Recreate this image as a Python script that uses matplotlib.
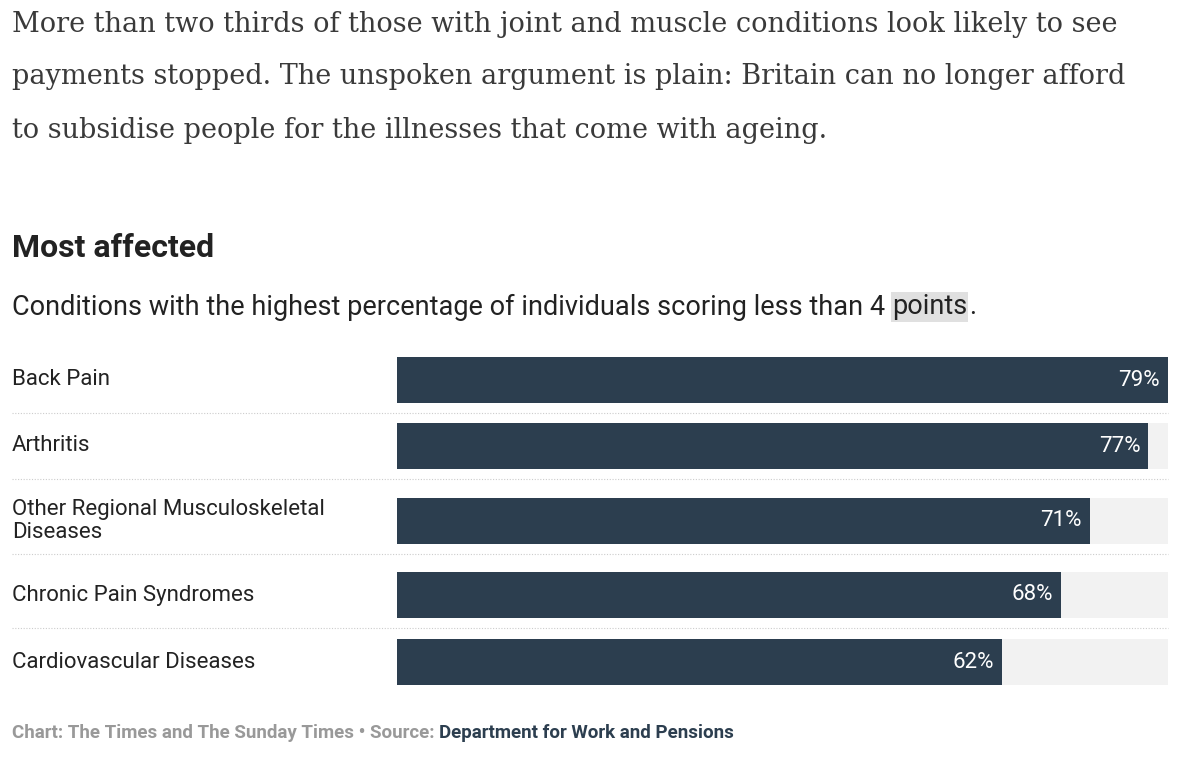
import matplotlib.pyplot as plt
from matplotlib.lines import Line2D

categories = ["Back Pain", "Arthritis", "Other Regional Musculoskeletal\nDiseases",
              "Chronic Pain Syndromes", "Cardiovascular Diseases"]
values = [79, 77, 71, 68, 62]
vmax = 79

W, H = 1200, 775
fig = plt.figure(figsize=(12, 7.75), dpi=100)
fig.patch.set_facecolor("white")


def fx(x):
    return x / W


def fy(y):
    return 1 - y / H


para = ["More than two thirds of those with joint and muscle conditions look likely to see",
        "payments stopped. The unspoken argument is plain: Britain can no longer afford",
        "to subsidise people for the illnesses that come with ageing."]
for i, line in enumerate(para):
    fig.text(fx(12), fy(24 + 53 * i), line, fontsize=19.5, family="DejaVu Serif",
             color="#3a3a3a", va="center", ha="left")

fig.text(fx(12), fy(248), "Most affected", fontsize=23, family="Roboto",
         weight="bold", color="#222222", va="center")
sub = fig.text(fx(12), fy(307), "Conditions with the highest percentage of individuals scoring less than 4 ",
               fontsize=19.5, family="Roboto", color="#222222", va="center")
fig.canvas.draw()
bb = sub.get_window_extent()
pts = fig.text(bb.x1 / W, fy(307), "points", fontsize=19.5, family="Roboto", color="#222222",
               va="center", bbox=dict(facecolor="#e0e0e0", edgecolor="none", pad=1))
fig.canvas.draw()
bb2 = pts.get_window_extent()
fig.text(bb2.x1 / W + 0.002, fy(307), ".", fontsize=19.5, family="Roboto", color="#222222", va="center")

# bars
centers = [380, 446, 521, 595, 662]
bh = 46
top, bot = 355, 688
ax = fig.add_axes([fx(397), fy(bot), fx(1168) - fx(397), (bot - top) / H])
ax.set_xlim(0, vmax)
ax.set_ylim(bot, top)
ax.axis("off")
ax.barh(centers, [vmax] * len(values), height=bh, color="#f2f2f2")
ax.barh(centers, values, height=bh, color="#2c3e4f")
for c, v in zip(centers, values):
    ax.text(v - 0.8, c, f"{v}%", color="white", ha="right", va="center",
            fontsize=16, family="Roboto")

for c, name in zip(centers, categories):
    fig.text(fx(12), fy(c), name, fontsize=16, family="Roboto", color="#222222",
             va="center", ha="left", linespacing=1.1)

for c in centers[:-1]:
    y = fy(c + bh / 2 + 10)
    fig.add_artist(Line2D([fx(12), fx(1168)], [y, y], color="#cccccc",
                          linestyle=(0, (1, 1.5)), linewidth=0.8))

ft = fig.text(fx(12), fy(733), "Chart: The Times and The Sunday Times \u2022 Source: ",
              fontsize=13.5, family="Roboto", color="#999999", weight="bold", va="center")
fig.canvas.draw()
b3 = ft.get_window_extent()
fig.text(b3.x1 / W, fy(733), "Department for Work and Pensions", fontsize=13.5,
         family="Roboto", color="#2c3e4f", weight="bold", va="center")

fig.savefig("out.png", dpi=100)
